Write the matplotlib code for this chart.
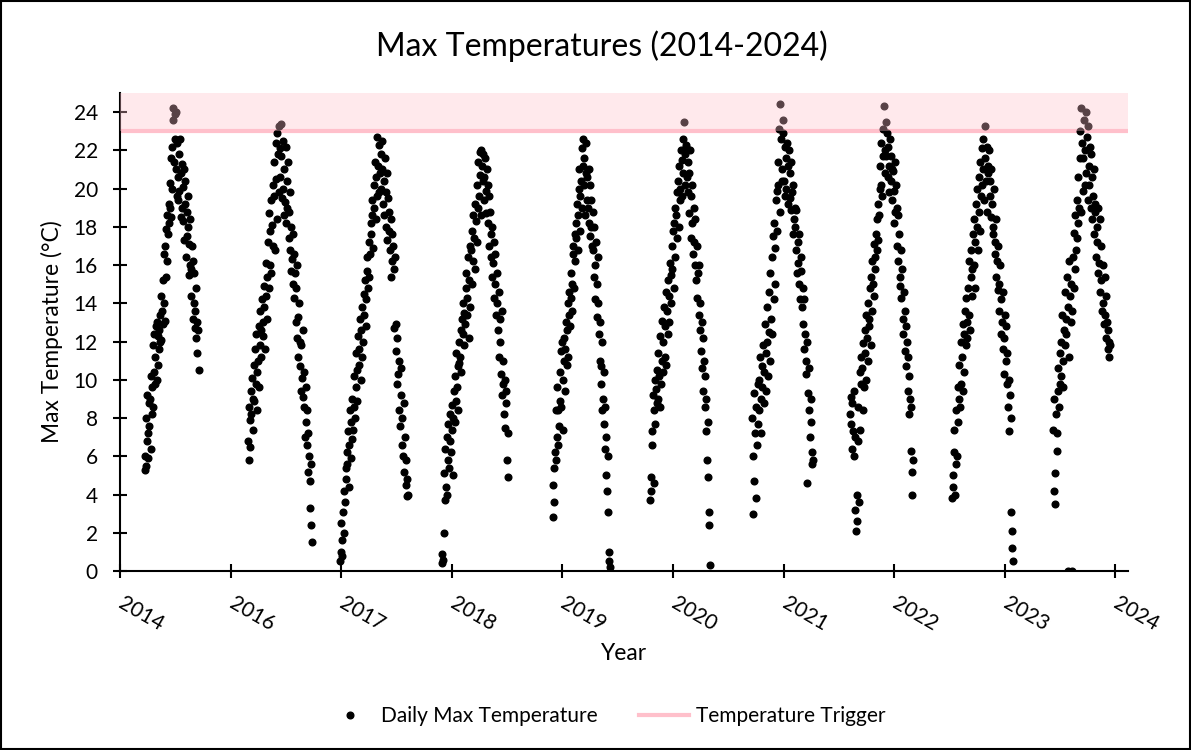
import numpy as np
import matplotlib.pyplot as plt
from matplotlib.lines import Line2D
from matplotlib.patches import Rectangle

plt.rcParams['font.family'] = ['Lato', 'DejaVu Sans']

# ============================================================
#  Data
# ============================================================
TRIGGER = 23      # temperature trigger, degC
Y_MAX = 25

tick_labels = ['2014', '2016', '2017', '2018', '2019',
               '2020', '2021', '2022', '2023', '2024']

# each season: first / last reading position on the x axis (tick units)
season_start = [0.222, 1.157, 1.989, 2.909, 3.912, 4.792, 5.714, 6.600, 7.523, 8.436]
season_end = [0.710, 1.736, 2.604, 3.511, 4.430, 5.335, 6.266, 7.170, 8.074, 8.951]

# daily max temperatures, in order through each season
temps_2014 = [5.3, 6.0, 8.0, 5.5, 6.8, 9.2, 7.2, 5.9, 8.8, 7.6,
              9.0, 6.4, 10.2, 8.2, 9.6, 11.8, 8.6, 10.4, 12.4, 9.8,
              11.2, 12.8, 10.0, 13.0, 12.3, 10.8, 12.6, 11.6, 13.4, 12.0,
              14.4, 12.1, 13.6, 15.2, 12.9, 16.6, 14.0, 13.1, 17.0, 15.4,
              17.9, 18.6, 16.2, 17.6, 19.2, 18.2, 20.3, 19.0, 21.6, 18.5,
              22.2, 20.0, 23.6, 24.2, 21.4, 23.9, 22.6, 24.0, 21.0, 19.6,
              22.4, 20.6, 19.4, 21.8, 19.9, 22.6, 20.8, 18.5, 21.3, 19.0,
              20.1, 18.3, 21.0, 17.3, 19.2, 20.4, 16.4, 18.8, 17.5, 19.6,
              18.0, 15.5, 17.1, 16.0, 18.4, 14.4, 15.8, 17.0, 13.2, 16.2,
              14.0, 15.6, 12.7, 13.6, 14.8, 12.2, 13.0, 11.4, 12.6, 10.5]
temps_2016 = [6.8, 5.8, 8.6, 7.9, 6.5, 9.4, 8.2, 10.1, 7.4, 9.0,
              10.8, 8.9, 11.6, 9.8, 12.4, 10.4, 8.4, 11.0, 12.8, 9.6,
              11.8, 13.6, 12.6, 11.2, 14.2, 13.0, 12.3, 14.9, 13.8, 11.6,
              14.4, 16.1, 13.2, 15.4, 17.2, 14.8, 18.7, 16.0, 17.8, 15.6,
              19.4, 18.1, 20.2, 17.0, 21.4, 19.6, 16.8, 22.4, 20.5, 18.4,
              22.9, 21.8, 19.8, 23.3, 22.1, 20.6, 23.4, 21.7, 19.5, 22.5,
              20.0, 18.6, 21.0, 19.3, 22.2, 18.2, 20.4, 19.0, 21.4, 18.8,
              17.4, 19.8, 16.8, 18.0, 15.7, 16.3, 17.6, 15.0, 16.6, 14.3,
              15.6, 13.0, 14.8, 12.2, 16.0, 13.3, 11.2, 14.0, 12.0, 10.7,
              11.8, 9.4, 10.1, 12.6, 9.1, 8.6, 10.4, 7.0, 9.6, 7.8,
              8.4, 6.6, 7.2, 5.2, 6.0, 4.7, 3.3, 5.6, 2.4, 1.5]
temps_2017 = [0.5, 1.0, 2.5, 1.6, 0.8, 3.1, 2.0, 4.2, 3.6, 5.4,
              4.8, 6.2, 5.6, 7.3, 4.4, 6.6, 8.4, 5.9, 7.8, 6.9,
              9.0, 7.4, 8.6, 10.2, 8.0, 9.6, 11.4, 10.5, 8.9, 12.3,
              10.8, 11.6, 13.2, 10.0, 12.6, 11.2, 13.8, 12.0, 14.5, 13.4,
              15.2, 14.2, 12.8, 15.7, 16.4, 14.8, 17.2, 15.4, 16.6, 18.2,
              17.6, 19.4, 18.6, 16.9, 20.2, 19.0, 21.4, 18.4, 20.6, 19.6,
              22.7, 21.2, 19.8, 22.3, 20.8, 21.8, 20.0, 22.5, 21.0, 19.2,
              20.4, 18.6, 21.6, 19.8, 18.0, 20.8, 17.3, 19.5, 18.8, 17.8,
              16.8, 18.4, 15.4, 17.6, 16.2, 17.0, 15.8, 12.7, 16.4, 11.5,
              12.9, 9.8, 12.2, 10.3, 8.4, 11.0, 7.6, 9.2, 10.6, 6.6,
              8.0, 6.0, 8.8, 5.2, 7.0, 4.5, 5.8, 3.9, 4.8, 4.0]
temps_2018 = [0.4, 0.9, 0.6, 2.0, 5.1, 3.7, 6.4, 4.4, 7.0, 4.0,
              5.8, 7.7, 5.4, 6.8, 8.2, 6.2, 8.7, 7.4, 5.0, 8.0,
              9.4, 7.8, 10.2, 8.9, 11.4, 9.6, 10.7, 8.4, 12.0, 10.9,
              11.2, 12.6, 10.4, 13.2, 12.4, 14.0, 11.8, 13.5, 12.9, 14.8,
              15.6, 13.4, 14.3, 16.4, 12.2, 15.2, 17.0, 13.8, 16.8, 15.0,
              17.8, 16.2, 18.6, 17.4, 19.2, 15.8, 18.3, 20.2, 17.2, 19.0,
              21.4, 19.6, 21.9, 20.7, 22.0, 18.6, 21.2, 20.4, 21.8, 19.4,
              20.6, 21.6, 19.9, 18.7, 21.0, 20.2, 18.2, 19.6, 17.0, 18.8,
              16.4, 17.6, 15.4, 18.0, 16.1, 14.3, 17.2, 15.0, 16.6, 13.4,
              14.0, 15.6, 12.6, 14.6, 11.2, 13.2, 12.0, 10.3, 13.6, 9.2,
              9.8, 11.0, 8.2, 10.0, 7.5, 8.8, 9.4, 5.8, 7.2, 4.9]
temps_2019 = [2.8, 4.5, 3.6, 5.4, 6.2, 8.4, 5.8, 7.0, 9.6, 6.6,
              8.4, 7.6, 10.4, 8.9, 11.5, 8.6, 12.0, 10.0, 7.4, 11.0,
              12.2, 9.4, 11.6, 13.0, 10.8, 12.6, 14.0, 11.2, 13.4, 14.6,
              12.8, 14.3, 15.6, 13.6, 15.0, 16.6, 17.0, 14.8, 16.2, 17.6,
              18.2, 17.4, 19.2, 16.8, 18.6, 20.0, 21.0, 17.8, 19.6, 20.4,
              22.1, 19.0, 21.2, 22.6, 20.2, 21.6, 18.6, 22.4, 20.8, 19.4,
              20.6, 19.0, 21.0, 18.2, 20.2, 17.5, 19.4, 18.0, 17.0, 18.8,
              16.8, 15.4, 18.0, 16.0, 14.2, 17.2, 15.0, 13.3, 16.4, 14.0,
              12.4, 11.0, 13.0, 10.7, 9.8, 12.0, 8.4, 9.0, 10.4, 7.7,
              6.4, 8.6, 5.0, 7.0, 4.2, 6.0, 3.1, 1.0, 0.5, 0.2]
temps_2020 = [3.7, 4.9, 4.2, 6.6, 7.3, 9.2, 4.6, 8.4, 10.0, 7.7,
              9.5, 8.8, 10.5, 9.0, 11.4, 10.2, 8.6, 12.3, 9.8, 11.0,
              13.1, 10.4, 12.0, 13.8, 11.2, 12.8, 14.6, 10.8, 13.6, 12.4,
              15.2, 14.4, 13.0, 16.1, 15.5, 14.0, 17.0, 15.8, 17.8, 14.8,
              18.2, 16.4, 19.0, 18.6, 17.4, 19.8, 20.4, 18.0, 21.2, 19.4,
              20.0, 22.0, 21.5, 19.6, 22.6, 20.8, 23.5, 21.8, 20.2, 22.3,
              22.2, 20.6, 21.4, 19.8, 20.8, 18.7, 22.0, 19.6, 17.4, 20.2,
              18.2, 16.6, 19.0, 17.2, 16.0, 18.4, 15.2, 14.3, 17.0, 15.6,
              13.4, 16.0, 12.6, 14.0, 11.5, 13.0, 10.6, 12.2, 9.4, 11.0,
              8.6, 10.2, 7.3, 9.0, 5.8, 7.8, 4.9, 3.1, 2.4, 0.3]
temps_2021 = [8.0, 6.0, 3.0, 9.3, 4.7, 7.2, 3.8, 8.6, 6.6, 9.8,
              7.7, 10.0, 8.4, 11.2, 9.0, 7.2, 10.7, 9.6, 11.8, 8.8,
              10.4, 12.9, 11.4, 9.4, 13.8, 12.0, 10.2, 12.5, 14.6, 11.0,
              15.6, 13.2, 16.4, 12.4, 17.5, 14.2, 18.2, 15.0, 16.9, 19.4,
              19.9, 17.8, 21.4, 20.2, 23.1, 24.4, 18.8, 22.6, 21.0, 20.4,
              22.9, 23.6, 20.4, 22.2, 19.6, 21.6, 20.0, 22.4, 19.2, 21.2,
              22.0, 19.5, 20.8, 18.9, 21.4, 19.8, 17.6, 20.2, 18.4, 19.0,
              18.0, 16.8, 18.9, 15.6, 17.2, 16.1, 15.0, 17.6, 14.2, 16.4,
              15.7, 13.8, 14.8, 12.9, 11.6, 14.2, 12.4, 10.3, 11.0, 4.6,
              12.0, 9.3, 10.6, 8.4, 7.0, 9.0, 7.8, 5.6, 6.2, 5.8]
temps_2022 = [8.2, 9.1, 7.7, 6.4, 8.8, 7.3, 6.0, 9.4, 3.2, 7.0,
              2.1, 4.0, 2.6, 6.8, 8.6, 3.6, 10.4, 7.4, 9.8, 11.2,
              10.6, 8.4, 11.9, 9.6, 12.6, 11.4, 10.0, 13.4, 12.2, 11.0,
              14.0, 12.8, 13.2, 14.8, 11.8, 15.4, 13.6, 16.2, 15.0, 14.4,
              17.1, 16.4, 15.8, 17.6, 18.4, 16.8, 17.3, 19.2, 18.6, 20.0,
              21.2, 20.2, 22.4, 19.6, 23.1, 21.7, 24.3, 22.0, 20.8, 23.5,
              21.7, 22.9, 20.6, 22.2, 21.2, 19.8, 22.6, 21.7, 20.4, 21.0,
              19.4, 20.9, 18.2, 19.9, 21.4, 18.8, 20.2, 17.0, 19.0, 18.6,
              16.2, 17.6, 15.4, 14.9, 16.8, 14.3, 15.8, 13.2, 12.4, 14.6,
              13.6, 11.5, 12.8, 10.7, 12.0, 9.4, 11.2, 8.2, 10.2, 9.0,
              6.3, 8.6, 5.2, 4.0, 5.8]
temps_2023 = [3.8, 5.0, 4.4, 6.2, 7.4, 4.0, 5.6, 8.4, 6.0, 9.6,
              7.8, 9.0, 10.8, 8.6, 9.8, 12.0, 11.2, 9.4, 12.9, 10.4,
              12.4, 13.6, 11.8, 14.3, 13.0, 12.2, 14.8, 13.4, 16.2, 12.6,
              15.4, 16.8, 14.4, 15.8, 17.6, 16.0, 18.4, 14.8, 17.2, 19.2,
              18.0, 20.0, 16.8, 18.8, 20.6, 17.8, 21.4, 19.6, 20.2, 22.1,
              21.0, 22.6, 19.4, 23.3, 21.6, 20.4, 22.2, 18.8, 21.2, 20.8,
              22.0, 19.6, 20.4, 18.5, 21.0, 19.2, 17.6, 18.0, 20.0, 16.6,
              17.2, 15.4, 18.4, 16.2, 14.7, 17.0, 15.0, 13.6, 16.0, 14.2,
              12.4, 13.0, 14.6, 11.6, 12.2, 10.3, 13.4, 11.0, 12.8, 9.8,
              11.4, 8.6, 10.0, 7.3, 9.2, 8.0, 3.1, 2.1, 1.2, 0.5]
temps_2024 = [7.4, 4.2, 9.0, 3.5, 5.1, 8.2, 6.3, 7.2, 9.4, 10.6,
              8.6, 11.4, 9.8, 12.0, 10.2, 13.4, 11.0, 9.6, 12.6, 14.6,
              11.8, 13.2, 12.4, 15.4, 0.0, 13.8, 16.2, 11.2, 14.4, 13.0,
              15.0, 0.0, 13.6, 16.4, 17.7, 14.8, 15.8, 18.6, 16.8, 17.4,
              19.4, 18.2, 20.6, 19.0, 23.0, 21.6, 24.2, 18.8, 22.4, 19.9,
              21.6, 23.6, 20.2, 22.0, 24.0, 20.8, 22.7, 19.4, 23.3, 21.2,
              20.2, 22.2, 19.0, 21.8, 18.4, 20.6, 19.6, 17.6, 21.0, 18.8,
              19.2, 16.4, 18.0, 17.2, 19.0, 15.6, 16.1, 18.4, 14.6, 17.0,
              15.2, 13.6, 16.0, 14.0, 12.9, 15.4, 13.4, 12.2, 14.4, 13.0,
              12.6, 11.6, 11.2, 12.0, 11.8]

seasons = [temps_2014, temps_2016, temps_2017, temps_2018, temps_2019,
           temps_2020, temps_2021, temps_2022, temps_2023, temps_2024]

PINK = '#FFC0CB'

# ============================================================
#  Plot
# ============================================================
fig = plt.figure(figsize=(11.91, 7.5), dpi=100)
ax = fig.add_axes([120 / 1191, 1 - 571 / 750, 1008 / 1191, 478 / 750])

# readings are evenly spaced through each season
for start, end, temps in zip(season_start, season_end, seasons):
    x = np.linspace(start, end, len(temps))
    ax.plot(x, temps, 'o', color='black', markersize=4.8, ls='none', zorder=2)

ax.axhline(TRIGGER, color=PINK, lw=3, zorder=1)
ax.axhspan(TRIGGER, Y_MAX, color=PINK, alpha=0.35, lw=0, zorder=3)

ax.set_xlim(0, 9.114)
ax.set_ylim(0, Y_MAX)
ax.set_yticks(range(0, 25, 2))
ax.set_xticks(range(len(tick_labels)))
ax.set_xticklabels(tick_labels, rotation=-30, ha='left', va='center',
                   rotation_mode='anchor')

for side in ['top', 'right']:
    ax.spines[side].set_visible(False)
for side in ['left', 'bottom']:
    ax.spines[side].set_linewidth(1.5)
ax.tick_params(direction='inout', length=10, width=1.5, labelsize=15, colors='black')
ax.tick_params(axis='y', pad=11)
ax.tick_params(axis='x', pad=17)

ax.set_ylabel('Max Temperature (°C)', fontsize=16.4)
ax.yaxis.set_label_coords(-0.0565, 0.5)
ax.set_xlabel('Year', fontsize=16.4)
ax.xaxis.set_label_coords(0.5, -0.15)

fig.text(0.505, 1 - 46 / 750, 'Max Temperatures (2014-2024)',
         ha='center', va='center', fontsize=23)

handles = [Line2D([], [], marker='o', color='black', ls='none', markersize=4.8),
           Line2D([], [], color=PINK, lw=3)]
fig.legend(handles, ['Daily Max Temperature', 'Temperature Trigger'],
           loc='center', bbox_to_anchor=(0.508, 0.045), ncol=2, frameon=False,
           fontsize=15, handlelength=2.4, handletextpad=0.3, columnspacing=2.0)

# chart border
fig.add_artist(Rectangle((0.001, 0.0015), 0.998, 0.997, transform=fig.transFigure,
                         fill=False, ec='black', lw=1.5))

fig.savefig('out.png', dpi=100)
